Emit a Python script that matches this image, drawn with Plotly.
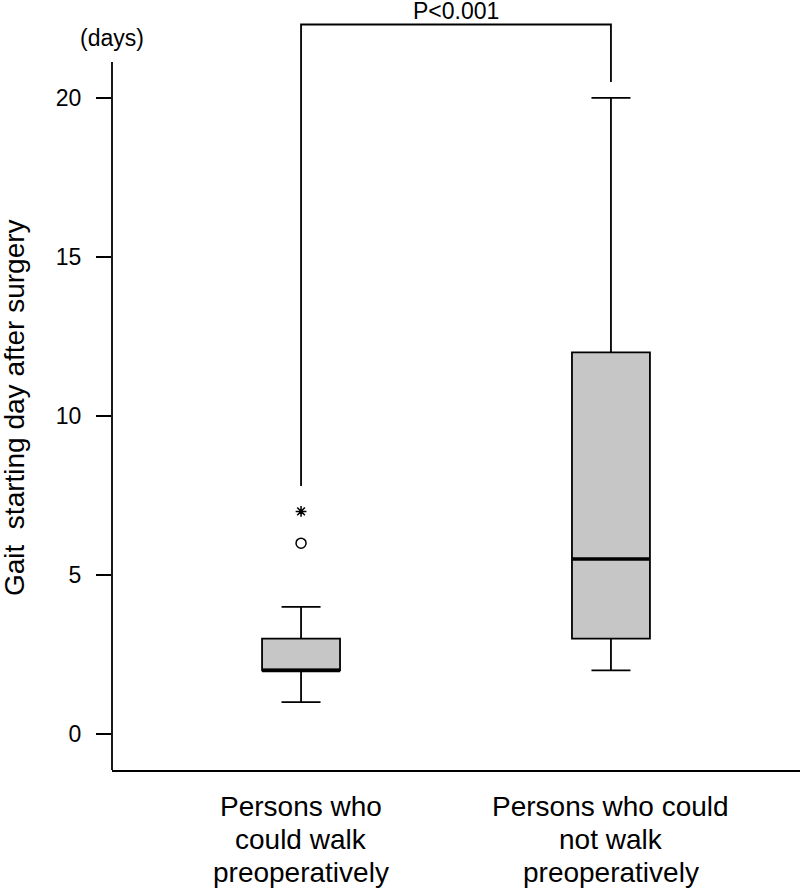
import plotly.graph_objects as go

# ---- data ----
categories = ["Persons who<br>could walk<br>preoperatively",
              "Persons who could<br>not walk<br>preoperatively"]
q1 = [2, 3]
median = [2, 5.5]
q3 = [3, 12]
lower = [1, 2]
upper = [4, 20]
outlier_circle = [6]      # "o" outlier, group 1
outlier_star = [7]        # "*" extreme, group 1
y_ticks = [0, 5, 10, 15, 20]
p_text = "P<0.001"
bracket_left_bottom = 7.8
bracket_right_bottom = 20.5
bracket_top = 22.31

positions = [1, 2]
box_w = 0.2516
FONT = "Liberation Sans, Arial, Helvetica, sans-serif"
Y_MIN, Y_MAX = -1.132, 23.08
AXIS_TOP = 21.13

fig = go.Figure()

for i, pos in enumerate(positions):
    fig.add_trace(go.Box(
        x=[pos], q1=[q1[i]], median=[median[i]], q3=[q3[i]],
        lowerfence=[lower[i]], upperfence=[upper[i]],
        width=box_w, whiskerwidth=0.5,
        fillcolor="#c6c6c6", line=dict(color="black", width=1.8),
        boxpoints=False, showlegend=False, hoverinfo="skip"))
    # thick median line
    fig.add_trace(go.Scatter(
        x=[pos - box_w / 2, pos + box_w / 2], y=[median[i], median[i]],
        mode="lines", line=dict(color="black", width=3.5),
        showlegend=False, hoverinfo="skip"))

# outliers (group 1)
fig.add_trace(go.Scatter(
    x=[positions[0]] * len(outlier_circle), y=outlier_circle, mode="markers",
    marker=dict(symbol="circle-open", size=10, color="black", line=dict(width=1.5)),
    showlegend=False, hoverinfo="skip"))
fig.add_trace(go.Scatter(
    x=[positions[0]] * len(outlier_star), y=outlier_star, mode="markers",
    marker=dict(symbol="asterisk-open", size=9, color="black", line=dict(width=1.5)),
    showlegend=False, hoverinfo="skip"))

# significance bracket
fig.add_trace(go.Scatter(
    x=[positions[0], positions[0], positions[1], positions[1]],
    y=[bracket_left_bottom, bracket_top, bracket_top, bracket_right_bottom],
    mode="lines", line=dict(color="black", width=1.8),
    showlegend=False, hoverinfo="skip"))

fig.add_annotation(x=(positions[0] + positions[1]) / 2, y=bracket_top,
                   text=p_text, showarrow=False, yanchor="middle", yshift=13,
                   borderpad=0,
                   font=dict(size=23, color="black", family=FONT))

# left axis line (stops short of top)
fig.add_shape(type="line", xref="paper", x0=0, x1=0, yref="y",
              y0=Y_MIN, y1=AXIS_TOP, line=dict(color="black", width=1.8))

fig.add_annotation(xref="paper", x=0, xanchor="center", yref="y", y=AXIS_TOP,
                   text="(days)", showarrow=False, yanchor="middle", yshift=24,
                   font=dict(size=23, color="black", family=FONT))

fig.add_annotation(xref="paper", x=-0.1424, xanchor="center", yref="y", y=10.25,
                   yanchor="middle", text="Gait  starting day after surgery",
                   textangle=-90, showarrow=False, borderpad=0,
                   font=dict(size=28, color="black", family=FONT))

# category labels, one annotation per line for tight line spacing
line_shifts = [-36, -69, -102]
for pos, cat in zip(positions, categories):
    for j, line in enumerate(cat.split("<br>")):
        fig.add_annotation(x=pos, y=Y_MIN, xanchor="center", yanchor="middle",
                           yshift=line_shifts[j], text=line, showarrow=False,
                           font=dict(size=28, color="black", family=FONT))

fig.update_layout(
    width=800, height=890,
    margin=dict(l=112, r=0, t=0, b=120),
    paper_bgcolor="white", plot_bgcolor="white",
    font=dict(family=FONT, size=23, color="black"),
    xaxis=dict(range=[0.39, 2.61], tickvals=positions, showticklabels=False,
               showline=True, linecolor="black", linewidth=1.8, ticks="",
               showgrid=False, zeroline=False, automargin=False),
    yaxis=dict(range=[Y_MIN, Y_MAX], tickvals=y_ticks, showline=False,
               ticks="outside", ticklen=15, tickwidth=1.8, tickcolor="black",
               showgrid=False, zeroline=False, tickfont=dict(size=23),
               ticklabelstandoff=10, automargin=False),
)

fig.write_html("out.html", config={"displayModeBar": False},
               post_script="document.body.style.margin='0';document.body.style.padding='0';")
